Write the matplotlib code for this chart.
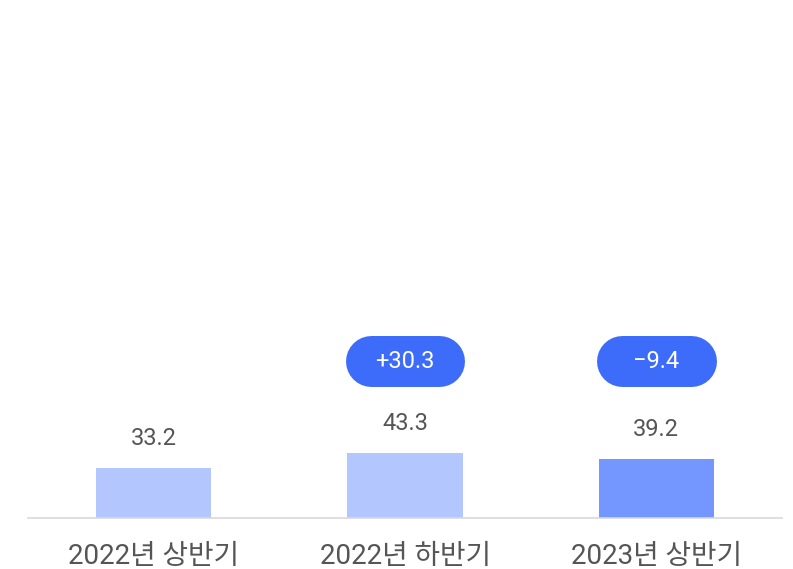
import matplotlib.pyplot as plt

plt.rcParams['font.family'] = ['Roboto', 'Noto Sans CJK KR', 'DejaVu Sans']
plt.rcParams['axes.unicode_minus'] = False

# 데이터
periods = ['2022년 상반기', '2022년 하반기', '2023년 상반기']
values = [33.2, 43.3, 39.2]
changes = [None, '+30.3', '\u22129.4']

bar_colors = ['#b3c6fe', '#b3c6fe', '#7397fe']
pill_color = '#3d6cfb'
text_color = '#555555'

fig = plt.figure(figsize=(7.93, 5.69), dpi=100)
ax = fig.add_axes([28 / 793, 51 / 569, 754 / 793, 518 / 569])

x = range(len(periods))
ax.bar(x, values, width=0.458, color=bar_colors, zorder=2)

# 값 라벨
for i, v in enumerate(values):
    ax.annotate(f'{v}', (i, v), xytext=(0, 13), textcoords='offset points',
                ha='center', va='bottom', fontsize=17, color=text_color)

# 증감 pill
pill_y = 104.5
for i, c in enumerate(changes):
    if c is None:
        continue
    ax.plot([i - 0.137, i + 0.137], [pill_y, pill_y], color=pill_color,
            lw=36.7, solid_capstyle='round', zorder=3)
    ax.text(i, pill_y, c, ha='center', va='center', fontsize=17,
            color='white', zorder=4)

ax.set_xlim(-0.5, 2.5)
ax.set_ylim(0, 518 / 1.5)
ax.set_xticks(list(x))
ax.set_xticklabels(periods, fontsize=20, color=text_color)
ax.tick_params(axis='x', length=0, pad=18)
ax.set_yticks([])
for s in ['top', 'right', 'left']:
    ax.spines[s].set_visible(False)
ax.spines['bottom'].set_color('#d9d9d9')
ax.spines['bottom'].set_linewidth(1.2)

fig.savefig('out.png', dpi=100)
